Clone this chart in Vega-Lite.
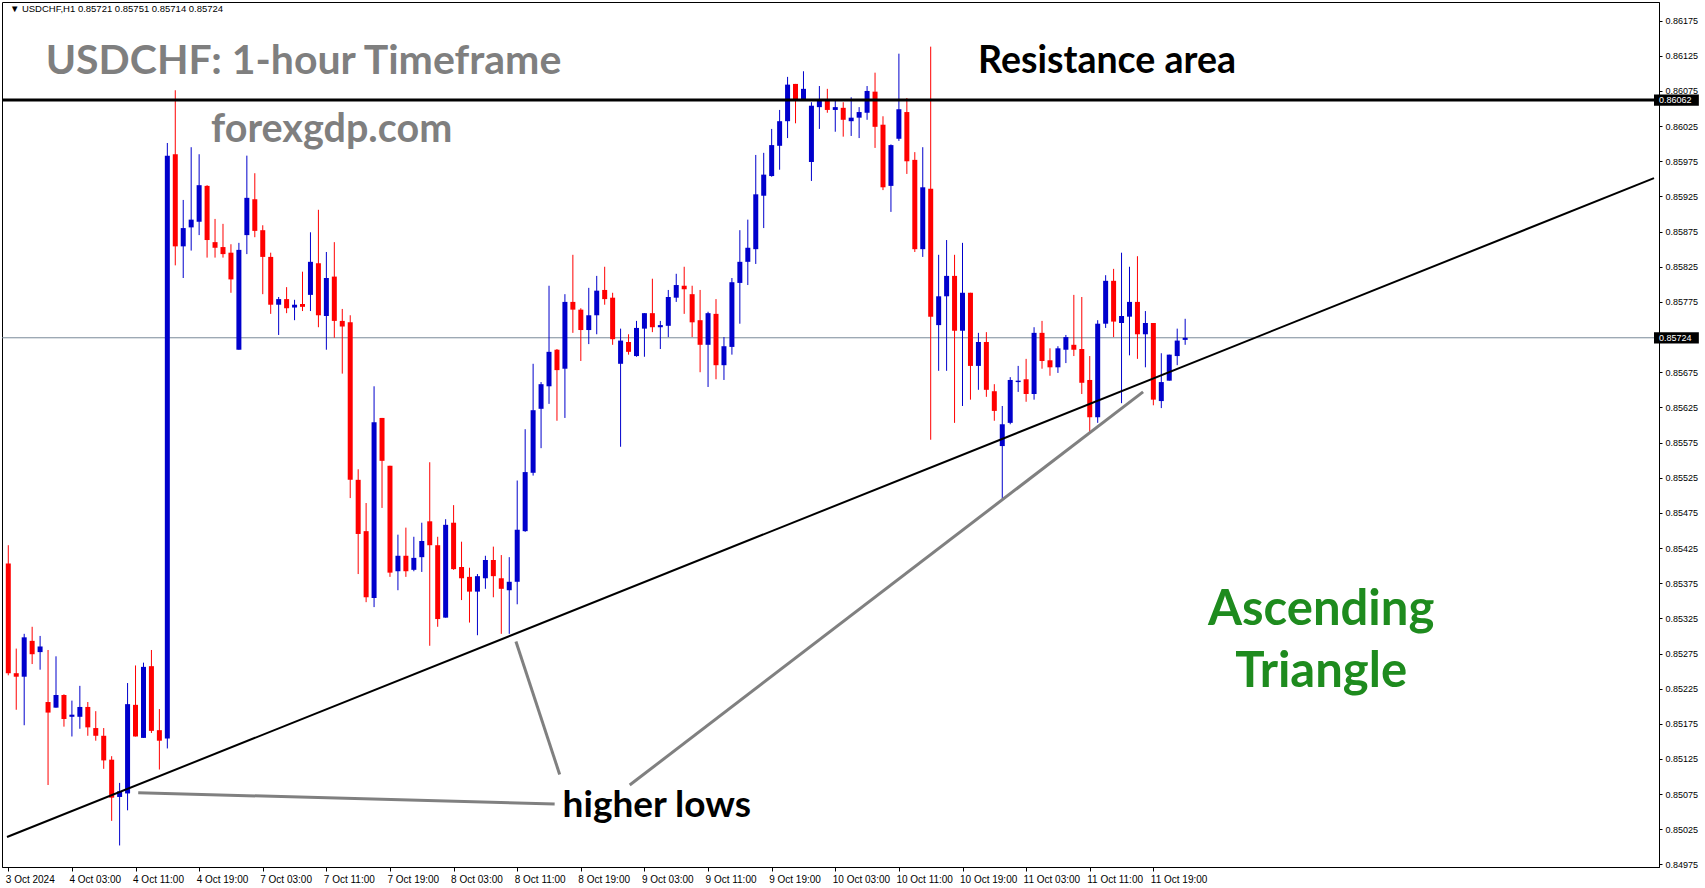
{
 "$schema": "https://vega.github.io/schema/vega-lite/v6.json",
 "width": 1657, "height": 865,
 "autosize": {"type": "none"},
 "padding": {"left": 2, "top": 2, "right": 46, "bottom": 21},
 "background": "white",
 "config": {"view": {"stroke": "black", "strokeWidth": 1}, "axis": {"grid": false, "domainColor": "black", "tickColor": "black", "labelColor": "black", "labelFont": "Liberation Sans", "labelFontSize": 9, "labelOverlap": false, "labelFlush": false}, "axisX": {"labelFontSize": 10}},
 "datasets": {
  "candles": [
{"i":0,"o":0.85403,"h":0.85429,"l":0.85244,"c":0.85247},
{"i":1,"o":0.85247,"h":0.85282,"l":0.85195,"c":0.85242},
{"i":2,"o":0.85242,"h":0.85303,"l":0.85173,"c":0.85298},
{"i":3,"o":0.85293,"h":0.85313,"l":0.85260,"c":0.85274},
{"i":4,"o":0.85277,"h":0.85300,"l":0.85252,"c":0.85285},
{"i":5,"o":0.85206,"h":0.85280,"l":0.85088,"c":0.85191},
{"i":6,"o":0.85198,"h":0.85271,"l":0.85198,"c":0.85216},
{"i":7,"o":0.85216,"h":0.85217,"l":0.85171,"c":0.85182},
{"i":8,"o":0.85185,"h":0.85208,"l":0.85157,"c":0.85188},
{"i":9,"o":0.85185,"h":0.85229,"l":0.85168,"c":0.85199},
{"i":10,"o":0.85199,"h":0.85206,"l":0.85158,"c":0.85170},
{"i":11,"o":0.85169,"h":0.85193,"l":0.85151,"c":0.85158},
{"i":12,"o":0.85158,"h":0.85169,"l":0.85111,"c":0.85123},
{"i":13,"o":0.85124,"h":0.85129,"l":0.85037,"c":0.85070},
{"i":14,"o":0.85071,"h":0.85091,"l":0.85002,"c":0.85079},
{"i":15,"o":0.85076,"h":0.85233,"l":0.85052,"c":0.85203},
{"i":16,"o":0.85202,"h":0.85258,"l":0.85157,"c":0.85157},
{"i":17,"o":0.85155,"h":0.85262,"l":0.85155,"c":0.85256},
{"i":18,"o":0.85257,"h":0.85280,"l":0.85162,"c":0.85165},
{"i":19,"o":0.85166,"h":0.85196,"l":0.85110,"c":0.85151},
{"i":20,"o":0.85154,"h":0.86001,"l":0.85140,"c":0.85983},
{"i":21,"o":0.85985,"h":0.86076,"l":0.85827,"c":0.85854},
{"i":22,"o":0.85854,"h":0.85920,"l":0.85809,"c":0.85880},
{"i":23,"o":0.85881,"h":0.85995,"l":0.85848,"c":0.85892},
{"i":24,"o":0.85889,"h":0.85985,"l":0.85870,"c":0.85941},
{"i":25,"o":0.85940,"h":0.85941,"l":0.85838,"c":0.85863},
{"i":26,"o":0.85860,"h":0.85893,"l":0.85838,"c":0.85852},
{"i":27,"o":0.85853,"h":0.85886,"l":0.85838,"c":0.85843},
{"i":28,"o":0.85845,"h":0.85857,"l":0.85788,"c":0.85807},
{"i":29,"o":0.85707,"h":0.85859,"l":0.85707,"c":0.85849},
{"i":30,"o":0.85870,"h":0.85983,"l":0.85843,"c":0.85923},
{"i":31,"o":0.85921,"h":0.85958,"l":0.85867,"c":0.85876},
{"i":32,"o":0.85877,"h":0.85884,"l":0.85786,"c":0.85839},
{"i":33,"o":0.85839,"h":0.85845,"l":0.85758,"c":0.85771},
{"i":34,"o":0.85771,"h":0.85782,"l":0.85728,"c":0.85779},
{"i":35,"o":0.85779,"h":0.85796,"l":0.85759,"c":0.85766},
{"i":36,"o":0.85767,"h":0.85778,"l":0.85749,"c":0.85771},
{"i":37,"o":0.85772,"h":0.85818,"l":0.85762,"c":0.85768},
{"i":38,"o":0.85785,"h":0.85874,"l":0.85762,"c":0.85832},
{"i":39,"o":0.85830,"h":0.85906,"l":0.85739,"c":0.85756},
{"i":40,"o":0.85755,"h":0.85846,"l":0.85707,"c":0.85809},
{"i":41,"o":0.85811,"h":0.85860,"l":0.85724,"c":0.85748},
{"i":42,"o":0.85748,"h":0.85765,"l":0.85673,"c":0.85740},
{"i":43,"o":0.85746,"h":0.85756,"l":0.85496,"c":0.85522},
{"i":44,"o":0.85522,"h":0.85537,"l":0.85388,"c":0.85445},
{"i":45,"o":0.85449,"h":0.85489,"l":0.85348,"c":0.85355},
{"i":46,"o":0.85354,"h":0.85655,"l":0.85341,"c":0.85604},
{"i":47,"o":0.85610,"h":0.85610,"l":0.85482,"c":0.85549},
{"i":48,"o":0.85542,"h":0.85542,"l":0.85384,"c":0.85390},
{"i":49,"o":0.85392,"h":0.85444,"l":0.85365,"c":0.85414},
{"i":50,"o":0.85414,"h":0.85454,"l":0.85384,"c":0.85392},
{"i":51,"o":0.85394,"h":0.85441,"l":0.85392,"c":0.85411},
{"i":52,"o":0.85412,"h":0.85461,"l":0.85391,"c":0.85435},
{"i":53,"o":0.85463,"h":0.85547,"l":0.85286,"c":0.85429},
{"i":54,"o":0.85429,"h":0.85441,"l":0.85313,"c":0.85324},
{"i":55,"o":0.85326,"h":0.85466,"l":0.85326,"c":0.85458},
{"i":56,"o":0.85461,"h":0.85486,"l":0.85394,"c":0.85395},
{"i":57,"o":0.85398,"h":0.85434,"l":0.85351,"c":0.85382},
{"i":58,"o":0.85384,"h":0.85397,"l":0.85319,"c":0.85363},
{"i":59,"o":0.85363,"h":0.85388,"l":0.85301,"c":0.85385},
{"i":60,"o":0.85382,"h":0.85414,"l":0.85367,"c":0.85408},
{"i":61,"o":0.85408,"h":0.85427,"l":0.85355,"c":0.85385},
{"i":62,"o":0.85382,"h":0.85415,"l":0.85303,"c":0.85367},
{"i":63,"o":0.85365,"h":0.85412,"l":0.85303,"c":0.85377},
{"i":64,"o":0.85377,"h":0.85521,"l":0.85345,"c":0.85451},
{"i":65,"o":0.85449,"h":0.85594,"l":0.85448,"c":0.85533},
{"i":66,"o":0.85532,"h":0.85687,"l":0.85528,"c":0.85621},
{"i":67,"o":0.85623,"h":0.85661,"l":0.85567,"c":0.85658},
{"i":68,"o":0.85655,"h":0.85798,"l":0.85630,"c":0.85704},
{"i":69,"o":0.85707,"h":0.85708,"l":0.85606,"c":0.85678},
{"i":70,"o":0.85680,"h":0.85786,"l":0.85610,"c":0.85775},
{"i":71,"o":0.85775,"h":0.85842,"l":0.85731,"c":0.85764},
{"i":72,"o":0.85764,"h":0.85766,"l":0.85691,"c":0.85735},
{"i":73,"o":0.85735,"h":0.85795,"l":0.85715,"c":0.85756},
{"i":74,"o":0.85756,"h":0.85812,"l":0.85729,"c":0.85791},
{"i":75,"o":0.85792,"h":0.85825,"l":0.85771,"c":0.85779},
{"i":76,"o":0.85781,"h":0.85788,"l":0.85714,"c":0.85722},
{"i":77,"o":0.85687,"h":0.85737,"l":0.85569,"c":0.85720},
{"i":78,"o":0.85718,"h":0.85729,"l":0.85700,"c":0.85704},
{"i":79,"o":0.85698,"h":0.85748,"l":0.85697,"c":0.85738},
{"i":80,"o":0.85737,"h":0.85759,"l":0.85697,"c":0.85759},
{"i":81,"o":0.85759,"h":0.85808,"l":0.85732,"c":0.85739},
{"i":82,"o":0.85739,"h":0.85748,"l":0.85708,"c":0.85742},
{"i":83,"o":0.85741,"h":0.85792,"l":0.85725,"c":0.85782},
{"i":84,"o":0.85781,"h":0.85815,"l":0.85775,"c":0.85799},
{"i":85,"o":0.85798,"h":0.85825,"l":0.85758,"c":0.85793},
{"i":86,"o":0.85786,"h":0.85798,"l":0.85725,"c":0.85746},
{"i":87,"o":0.85749,"h":0.85792,"l":0.85675,"c":0.85714},
{"i":88,"o":0.85714,"h":0.85761,"l":0.85654,"c":0.85759},
{"i":89,"o":0.85758,"h":0.85779,"l":0.85665,"c":0.85685},
{"i":90,"o":0.85685,"h":0.85725,"l":0.85664,"c":0.85712},
{"i":91,"o":0.85711,"h":0.85809,"l":0.85700,"c":0.85803},
{"i":92,"o":0.85802,"h":0.85877,"l":0.85744,"c":0.85832},
{"i":93,"o":0.85832,"h":0.85892,"l":0.85799,"c":0.85852},
{"i":94,"o":0.85850,"h":0.85984,"l":0.85829,"c":0.85928},
{"i":95,"o":0.85926,"h":0.85987,"l":0.85880,"c":0.85956},
{"i":96,"o":0.85954,"h":0.86021,"l":0.85953,"c":0.85998},
{"i":97,"o":0.85997,"h":0.86048,"l":0.85963,"c":0.86032},
{"i":98,"o":0.86032,"h":0.86095,"l":0.86008,"c":0.86084},
{"i":99,"o":0.86085,"h":0.86085,"l":0.86029,"c":0.86062},
{"i":100,"o":0.86062,"h":0.86103,"l":0.86062,"c":0.86078},
{"i":101,"o":0.85974,"h":0.86059,"l":0.85947,"c":0.86054},
{"i":102,"o":0.86052,"h":0.86082,"l":0.86021,"c":0.86061},
{"i":103,"o":0.86062,"h":0.86078,"l":0.86044,"c":0.86048},
{"i":104,"o":0.86048,"h":0.86061,"l":0.86017,"c":0.86052},
{"i":105,"o":0.86051,"h":0.86059,"l":0.86010,"c":0.86034},
{"i":106,"o":0.86032,"h":0.86066,"l":0.86011,"c":0.86037},
{"i":107,"o":0.86037,"h":0.86052,"l":0.86008,"c":0.86045},
{"i":108,"o":0.86044,"h":0.86082,"l":0.86034,"c":0.86075},
{"i":109,"o":0.86074,"h":0.86101,"l":0.85994,"c":0.86024},
{"i":110,"o":0.86027,"h":0.86039,"l":0.85934,"c":0.85938},
{"i":111,"o":0.85940,"h":0.85999,"l":0.85903,"c":0.85998},
{"i":112,"o":0.86007,"h":0.86128,"l":0.86004,"c":0.86049},
{"i":113,"o":0.86045,"h":0.86065,"l":0.85957,"c":0.85975},
{"i":114,"o":0.85977,"h":0.85988,"l":0.85846,"c":0.85850},
{"i":115,"o":0.85850,"h":0.85995,"l":0.85839,"c":0.85938},
{"i":116,"o":0.85936,"h":0.86138,"l":0.85579,"c":0.85754},
{"i":117,"o":0.85742,"h":0.85842,"l":0.85677,"c":0.85783},
{"i":118,"o":0.85783,"h":0.85863,"l":0.85677,"c":0.85812},
{"i":119,"o":0.85812,"h":0.85842,"l":0.85603,"c":0.85734},
{"i":120,"o":0.85734,"h":0.85859,"l":0.85627,"c":0.85788},
{"i":121,"o":0.85788,"h":0.85788,"l":0.85636,"c":0.85684},
{"i":122,"o":0.85684,"h":0.85731,"l":0.85650,"c":0.85718},
{"i":123,"o":0.85718,"h":0.85732,"l":0.85640,"c":0.85650},
{"i":124,"o":0.85648,"h":0.85658,"l":0.85606,"c":0.85620},
{"i":125,"o":0.85570,"h":0.85627,"l":0.85495,"c":0.85601},
{"i":126,"o":0.85603,"h":0.85668,"l":0.85601,"c":0.85664},
{"i":127,"o":0.85661,"h":0.85684,"l":0.85647,"c":0.85663},
{"i":128,"o":0.85665,"h":0.85694,"l":0.85633,"c":0.85644},
{"i":129,"o":0.85644,"h":0.85739,"l":0.85636,"c":0.85731},
{"i":130,"o":0.85731,"h":0.85748,"l":0.85680,"c":0.85691},
{"i":131,"o":0.85692,"h":0.85709,"l":0.85670,"c":0.85682},
{"i":132,"o":0.85682,"h":0.85712,"l":0.85674,"c":0.85709},
{"i":133,"o":0.85707,"h":0.85728,"l":0.85688,"c":0.85725},
{"i":134,"o":0.85714,"h":0.85785,"l":0.85698,"c":0.85707},
{"i":135,"o":0.85708,"h":0.85782,"l":0.85644,"c":0.85660},
{"i":136,"o":0.85664,"h":0.85698,"l":0.85590,"c":0.85611},
{"i":137,"o":0.85611,"h":0.85749,"l":0.85603,"c":0.85744},
{"i":138,"o":0.85744,"h":0.85813,"l":0.85738,"c":0.85805},
{"i":139,"o":0.85805,"h":0.85822,"l":0.85725,"c":0.85747},
{"i":140,"o":0.85745,"h":0.85845,"l":0.85631,"c":0.85755},
{"i":141,"o":0.85754,"h":0.85825,"l":0.85699,"c":0.85775},
{"i":142,"o":0.85775,"h":0.85840,"l":0.85694,"c":0.85729},
{"i":143,"o":0.85729,"h":0.85762,"l":0.85682,"c":0.85745},
{"i":144,"o":0.85745,"h":0.85745,"l":0.85628,"c":0.85636},
{"i":145,"o":0.85634,"h":0.85702,"l":0.85624,"c":0.85661},
{"i":146,"o":0.85663,"h":0.85700,"l":0.85663,"c":0.85700},
{"i":147,"o":0.85698,"h":0.85737,"l":0.85685,"c":0.85720},
{"i":148,"o":0.85721,"h":0.85751,"l":0.85714,"c":0.85724}
  ]
 },
 "layer": [
  {
   "data": {"values": [{"p": 0.85724}]},
   "mark": {"type": "rule", "color": "#7A8A99", "strokeWidth": 1},
   "encoding": {
    "y": {"field": "p", "type": "quantitative", "title": null, "scale": {"domain": [0.849714, 0.862015], "nice": false, "zero": false},
      "axis": {"orient": "right", "values": [0.84975,0.85025,0.85075,0.85125,0.85175,0.85225,0.85275,0.85325,0.85375,0.85425,0.85475,0.85525,0.85575,0.85625,0.85675,0.85775,0.85825,0.85875,0.85925,0.85975,0.86025,0.86075,0.86125,0.86175], "tickCount": 40, "format": ".5f", "tickSize": 3, "labelPadding": 3, "labelOverlap": false, "labelFlush": false, "labelBaseline": "middle", "domain": true}}
   }
  },
  {
   "data": {"name": "candles"},
   "mark": {"type": "rule", "strokeWidth": 1},
   "encoding": {
    "x": {"field": "i", "type": "quantitative", "title": null, "scale": {"domain": [-0.1625, 206.96], "nice": false, "zero": false},
      "axis": {"values": [0,8,16,24,32,40,48,56,64,72,80,88,96,104,112,120,128,136,144], "tickCount": 60, "labelExpr": "['3 Oct 2024','4 Oct 03:00','4 Oct 11:00','4 Oct 19:00','7 Oct 03:00','7 Oct 11:00','7 Oct 19:00','8 Oct 03:00','8 Oct 11:00','8 Oct 19:00','9 Oct 03:00','9 Oct 11:00','9 Oct 19:00','10 Oct 03:00','10 Oct 11:00','10 Oct 19:00','11 Oct 03:00','11 Oct 11:00','11 Oct 19:00'][datum.value/8]", "labelAlign": "left", "labelOffset": -3, "tickSize": 4, "labelPadding": 3, "labelOverlap": false, "labelFlush": false, "domain": true}},
    "y": {"field": "l", "type": "quantitative", "title": null, "scale": {"domain": [0.849714, 0.862015], "nice": false, "zero": false}},
    "y2": {"field": "h"},
    "color": {"condition": {"test": "datum.c >= datum.o", "value": "#0000CC"}, "value": "#FF0000"}
   }
  },
  {
   "data": {"name": "candles"},
   "mark": {"type": "bar", "width": 5},
   "encoding": {
    "x": {"field": "i", "type": "quantitative", "title": null, "scale": {"domain": [-0.1625, 206.96], "nice": false, "zero": false}},
    "y": {"field": "o", "type": "quantitative", "title": null, "scale": {"domain": [0.849714, 0.862015], "nice": false, "zero": false}},
    "y2": {"field": "c"},
    "color": {"condition": {"test": "datum.c >= datum.o", "value": "#0000CC"}, "value": "#FF0000"}
   }
  },
  {
   "data": {"values": [{"p": 0.86062}]},
   "mark": {"type": "rule", "color": "black", "strokeWidth": 3},
   "encoding": {
    "y": {"field": "p", "type": "quantitative", "title": null, "scale": {"domain": [0.849714, 0.862015], "nice": false, "zero": false}}
   }
  },
  {
   "data": {"values": [
     {"i": -0.1625, "p": 0.85014, "i2": 206.96, "p2": 0.85951}
   ]},
   "mark": {"type": "rule", "color": "black", "strokeWidth": 2},
   "encoding": {
    "x": {"field": "i", "type": "quantitative", "title": null, "scale": {"domain": [-0.1625, 206.96], "nice": false, "zero": false}},
    "y": {"field": "p", "type": "quantitative", "title": null, "scale": {"domain": [0.849714, 0.862015], "nice": false, "zero": false}},
    "x2": {"field": "i2"},
    "y2": {"field": "p2"}
   }
  },
  {
   "data": {"values": [
     {"i": 16.34, "p": 0.85077, "i2": 68.71, "p2": 0.85061},
     {"i": 63.84, "p": 0.85292, "i2": 69.34, "p2": 0.85103},
     {"i": 78.15, "p": 0.85088, "i2": 142.71, "p2": 0.85647}
   ]},
   "mark": {"type": "rule", "color": "#808080", "strokeWidth": 3},
   "encoding": {
    "x": {"field": "i", "type": "quantitative", "title": null, "scale": {"domain": [-0.1625, 206.96], "nice": false, "zero": false}},
    "y": {"field": "p", "type": "quantitative", "title": null, "scale": {"domain": [0.849714, 0.862015], "nice": false, "zero": false}},
    "x2": {"field": "i2"},
    "y2": {"field": "p2"}
   }
  },
  {
   "data": {"values": [{"p": 0.86062}, {"p": 0.85724}]},
   "transform": [{"calculate": "datum.p + 0.00008", "as": "ptop"}, {"calculate": "datum.p - 0.00008", "as": "pbot"}],
   "mark": {"type": "rect", "color": "black"},
   "encoding": {
    "x": {"datum": 206.96, "type": "quantitative", "scale": {"domain": [-0.1625, 206.96], "nice": false, "zero": false}},
    "x2": {"datum": 212.6},
    "y": {"field": "ptop", "type": "quantitative", "title": null, "scale": {"domain": [0.849714, 0.862015], "nice": false, "zero": false}},
    "y2": {"field": "pbot"}
   }
  },
  {
   "data": {"values": [{"p": 0.86062, "txt": "0.86062"}, {"p": 0.85724, "txt": "0.85724"}]},
   "mark": {"type": "text", "color": "white", "font": "Liberation Sans", "fontSize": 9, "align": "left", "baseline": "middle"},
   "encoding": {
    "x": {"datum": 207.6, "type": "quantitative", "scale": {"domain": [-0.1625, 206.96], "nice": false, "zero": false}},
    "y": {"field": "p", "type": "quantitative", "title": null, "scale": {"domain": [0.849714, 0.862015], "nice": false, "zero": false}},
    "text": {"field": "txt"}
   }
  },
  {
   "data": {"values": [{"i": 0.2, "p": 0.86187, "txt": "▼ USDCHF,H1  0.85721 0.85751 0.85714 0.85724"}]},
   "mark": {"type": "text", "color": "black", "font": "Liberation Sans", "fontSize": 9.5, "align": "left", "baseline": "alphabetic"},
   "encoding": {
    "x": {"field": "i", "type": "quantitative", "title": null, "scale": {"domain": [-0.1625, 206.96], "nice": false, "zero": false}},
    "y": {"field": "p", "type": "quantitative", "title": null, "scale": {"domain": [0.849714, 0.862015], "nice": false, "zero": false}},
    "text": {"field": "txt"}
   }
  },
  {
   "data": {"values": [{"i": 4.7, "p": 0.86099, "txt": "USDCHF: 1-hour Timeframe"}]},
   "mark": {"type": "text", "color": "#7F7F7F", "font": "Lato", "fontWeight": "bold", "fontSize": 41, "align": "left", "baseline": "alphabetic"},
   "encoding": {
    "x": {"field": "i", "type": "quantitative", "title": null, "scale": {"domain": [-0.1625, 206.96], "nice": false, "zero": false}},
    "y": {"field": "p", "type": "quantitative", "title": null, "scale": {"domain": [0.849714, 0.862015], "nice": false, "zero": false}},
    "text": {"field": "txt"}
   }
  },
  {
   "data": {"values": [{"i": 25.5, "p": 0.86002, "txt": "forexgdp.com"}]},
   "mark": {"type": "text", "color": "#7F7F7F", "font": "Lato", "fontWeight": "bold", "fontSize": 39.5, "align": "left", "baseline": "alphabetic"},
   "encoding": {
    "x": {"field": "i", "type": "quantitative", "title": null, "scale": {"domain": [-0.1625, 206.96], "nice": false, "zero": false}},
    "y": {"field": "p", "type": "quantitative", "title": null, "scale": {"domain": [0.849714, 0.862015], "nice": false, "zero": false}},
    "text": {"field": "txt"}
   }
  },
  {
   "data": {"values": [{"i": 121.96, "p": 0.86101, "txt": "Resistance area"}]},
   "mark": {"type": "text", "color": "black", "font": "Lato", "fontWeight": "bold", "fontSize": 37.5, "align": "left", "baseline": "alphabetic"},
   "encoding": {
    "x": {"field": "i", "type": "quantitative", "title": null, "scale": {"domain": [-0.1625, 206.96], "nice": false, "zero": false}},
    "y": {"field": "p", "type": "quantitative", "title": null, "scale": {"domain": [0.849714, 0.862015], "nice": false, "zero": false}},
    "text": {"field": "txt"}
   }
  },
  {
   "data": {"values": [{"i": 69.71, "p": 0.85042, "txt": "higher lows"}]},
   "mark": {"type": "text", "color": "black", "font": "Lato", "fontWeight": "bold", "fontSize": 37, "align": "left", "baseline": "alphabetic"},
   "encoding": {
    "x": {"field": "i", "type": "quantitative", "title": null, "scale": {"domain": [-0.1625, 206.96], "nice": false, "zero": false}},
    "y": {"field": "p", "type": "quantitative", "title": null, "scale": {"domain": [0.849714, 0.862015], "nice": false, "zero": false}},
    "text": {"field": "txt"}
   }
  },
  {
   "data": {"values": [{"i": 165.1, "p": 0.85315, "txt": "Ascending"}, {"i": 165.1, "p": 0.85227, "txt": "Triangle"}]},
   "mark": {"type": "text", "color": "#1E8B1E", "font": "Lato", "fontWeight": "bold", "fontSize": 49, "align": "center", "baseline": "alphabetic"},
   "encoding": {
    "x": {"field": "i", "type": "quantitative", "title": null, "scale": {"domain": [-0.1625, 206.96], "nice": false, "zero": false}},
    "y": {"field": "p", "type": "quantitative", "title": null, "scale": {"domain": [0.849714, 0.862015], "nice": false, "zero": false}},
    "text": {"field": "txt"}
   }
  }
 ]
}
